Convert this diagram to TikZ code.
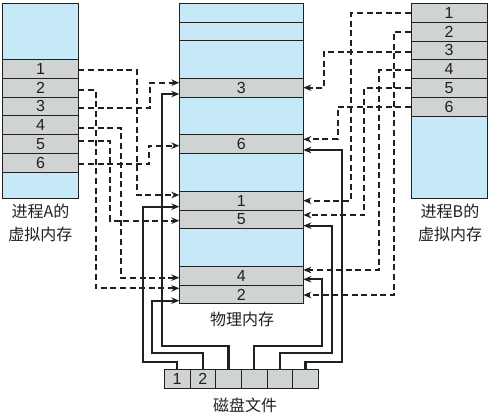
\documentclass[tikz,border=0pt]{standalone}
\usepackage{fontspec}
\setmainfont{Liberation Sans}
\newfontfamily\cjk{Noto Sans CJK SC}
\usetikzlibrary{arrows.meta}
\definecolor{memblue}{HTML}{C6E9F8}
\definecolor{memgray}{HTML}{D0D3D3}
\definecolor{ink}{HTML}{231F20}
\begin{document}
\begin{tikzpicture}[x=1pt,y=-1pt,
  cellbase/.style={draw=ink, line width=0.9pt, inner sep=0pt, outer sep=0pt, anchor=north west,
    font=\fontsize{16}{16}\selectfont, text=ink},
  freecell/.style={cellbase, fill=memblue},
  usedcell/.style={cellbase, fill=memgray},
  vmA/.style={minimum width=75.6pt},
  vmB/.style={minimum width=76.3pt},
  pm/.style={minimum width=124pt},
  dk/.style={usedcell, minimum width=25.67pt, minimum height=19pt},
  tipstyle/.style={-{Stealth[length=8pt,width=6.5pt,inset=2.5pt]}},
  dl/.style={draw=ink, line width=2.1pt, dash pattern=on 6pt off 3.6pt, tipstyle},
  sl/.style={draw=ink, line width=2.1pt, tipstyle},
  lbl/.style={font=\cjk\fontsize{16}{22.6}\selectfont, text=ink, align=center}]
\useasboundingbox (0,0) rectangle (490,415);

% Process A virtual memory
\node[freecell, vmA, minimum height=56pt] (atop) at (2.7,3.3) {};
\node[usedcell, vmA, minimum height=18.83pt] (a1) at (2.7,59.3) {1};
\node[usedcell, vmA, minimum height=18.83pt] (a2) at (2.7,78.13) {2};
\node[usedcell, vmA, minimum height=18.83pt] (a3) at (2.7,96.96) {3};
\node[usedcell, vmA, minimum height=18.83pt] (a4) at (2.7,115.79) {4};
\node[usedcell, vmA, minimum height=18.83pt] (a5) at (2.7,134.62) {5};
\node[usedcell, vmA, minimum height=18.83pt] (a6) at (2.7,153.45) {6};
\node[freecell, vmA, minimum height=26pt] (abot) at (2.7,172.3) {};

% Process B virtual memory
\node[usedcell, vmB, minimum height=18.83pt] (b1) at (411,3.3) {1};
\node[usedcell, vmB, minimum height=18.83pt] (b2) at (411,22.13) {2};
\node[usedcell, vmB, minimum height=18.83pt] (b3) at (411,40.96) {3};
\node[usedcell, vmB, minimum height=18.83pt] (b4) at (411,59.79) {4};
\node[usedcell, vmB, minimum height=18.83pt] (b5) at (411,78.62) {5};
\node[usedcell, vmB, minimum height=18.83pt] (b6) at (411,97.45) {6};
\node[freecell, vmB, minimum height=82pt] (bbot) at (411,116.3) {};

% Physical memory
\node[freecell, pm, minimum height=18.79pt] (f0) at (179.3,3.3) {};
\node[freecell, pm, minimum height=18.79pt] (f1) at (179.3,22.09) {};
\node[freecell, pm, minimum height=37.58pt] (f2) at (179.3,40.88) {};
\node[usedcell, pm, minimum height=18.79pt] (p3) at (179.3,78.46) {3};
\node[freecell, pm, minimum height=37.58pt] (f3) at (179.3,97.25) {};
\node[usedcell, pm, minimum height=18.79pt] (p6) at (179.3,134.83) {6};
\node[freecell, pm, minimum height=37.58pt] (f4) at (179.3,153.62) {};
\node[usedcell, pm, minimum height=18.79pt] (p1) at (179.3,191.2) {1};
\node[usedcell, pm, minimum height=18.79pt] (p5) at (179.3,209.99) {5};
\node[freecell, pm, minimum height=37.58pt] (f5) at (179.3,228.78) {};
\node[usedcell, pm, minimum height=18.79pt] (p4) at (179.3,266.36) {4};
\node[usedcell, pm, minimum height=18.79pt] (p2) at (179.3,285.15) {2};

% Disk file
\node[dk] (d1) at (164.3,369.3) {1};
\node[dk] (d2) at (189.97,369.3) {2};
\node[dk] (d3) at (215.64,369.3) {};
\node[dk] (d4) at (241.31,369.3) {};
\node[dk] (d5) at (266.98,369.3) {};
\node[dk] (d6) at (292.65,369.3) {};

% Labels
\node[lbl] (la) at (40.5,223) {进程A的\\虚拟内存};
\node[lbl] (lb) at (450,223) {进程B的\\虚拟内存};
\node[lbl] (lp) at (242,319.5) {物理内存};
\node[lbl] (ld) at (245,405) {磁盘文件};

% Process A -> physical
\draw[dl] (a1.east |- 0,70) -| (136.7,195) -- (p1.west |- 0,195);
\draw[dl] (a2.east |- 0,90) -| (96,288.3) -- (p2.west |- 0,288.3);
\draw[dl] (a3.east |- 0,107.7) -| (150,82.7) -- (p3.west |- 0,82.7);
\draw[dl] (a4.east |- 0,127.7) -| (120.7,277.7) -- (p4.west |- 0,277.7);
\draw[dl] (a5.east |- 0,141) -| (110,220.7) -- (p5.west |- 0,220.7);
\draw[dl] (a6.east |- 0,164) -| (149,145.7) -- (p6.west |- 0,145.7);

% Process B -> physical
\draw[dl] (b1.west |- 0,13.3) -| (351,200.7) -- (p1.east |- 0,200.7);
\draw[dl] (b2.west |- 0,31.7) -| (394,295) -- (p2.east |- 0,295);
\draw[dl] (b3.west |- 0,51.7) -| (324,87.7) -- (p3.east |- 0,87.7);
\draw[dl] (b4.west |- 0,70) -| (379,270) -- (p4.east |- 0,270);
\draw[dl] (b5.west |- 0,87.7) -| (364.3,215) -- (p5.east |- 0,215);
\draw[dl] (b6.west |- 0,106.7) -| (337.7,139.3) -- (p6.east |- 0,139.3);

% Disk -> physical
\draw[sl] (d1.north) |- (143.3,361.7) |- (p1.west |- 0,206.7);
\draw[sl] (d2.north) |- (152.3,353.3) |- (p2.west |- 0,300.7);
\draw[sl] (d3.north) |- (162.3,345.7) |- (p3.west |- 0,94);
\draw[sl] (d4.north) |- (322.3,345.7) |- (p4.east |- 0,279.3);
\draw[sl] (d5.north) |- (332.3,353.3) |- (p5.east |- 0,225.7);
\draw[sl] (d6.north) |- (341.7,361.7) |- (p6.east |- 0,150);
\end{tikzpicture}
\end{document}
